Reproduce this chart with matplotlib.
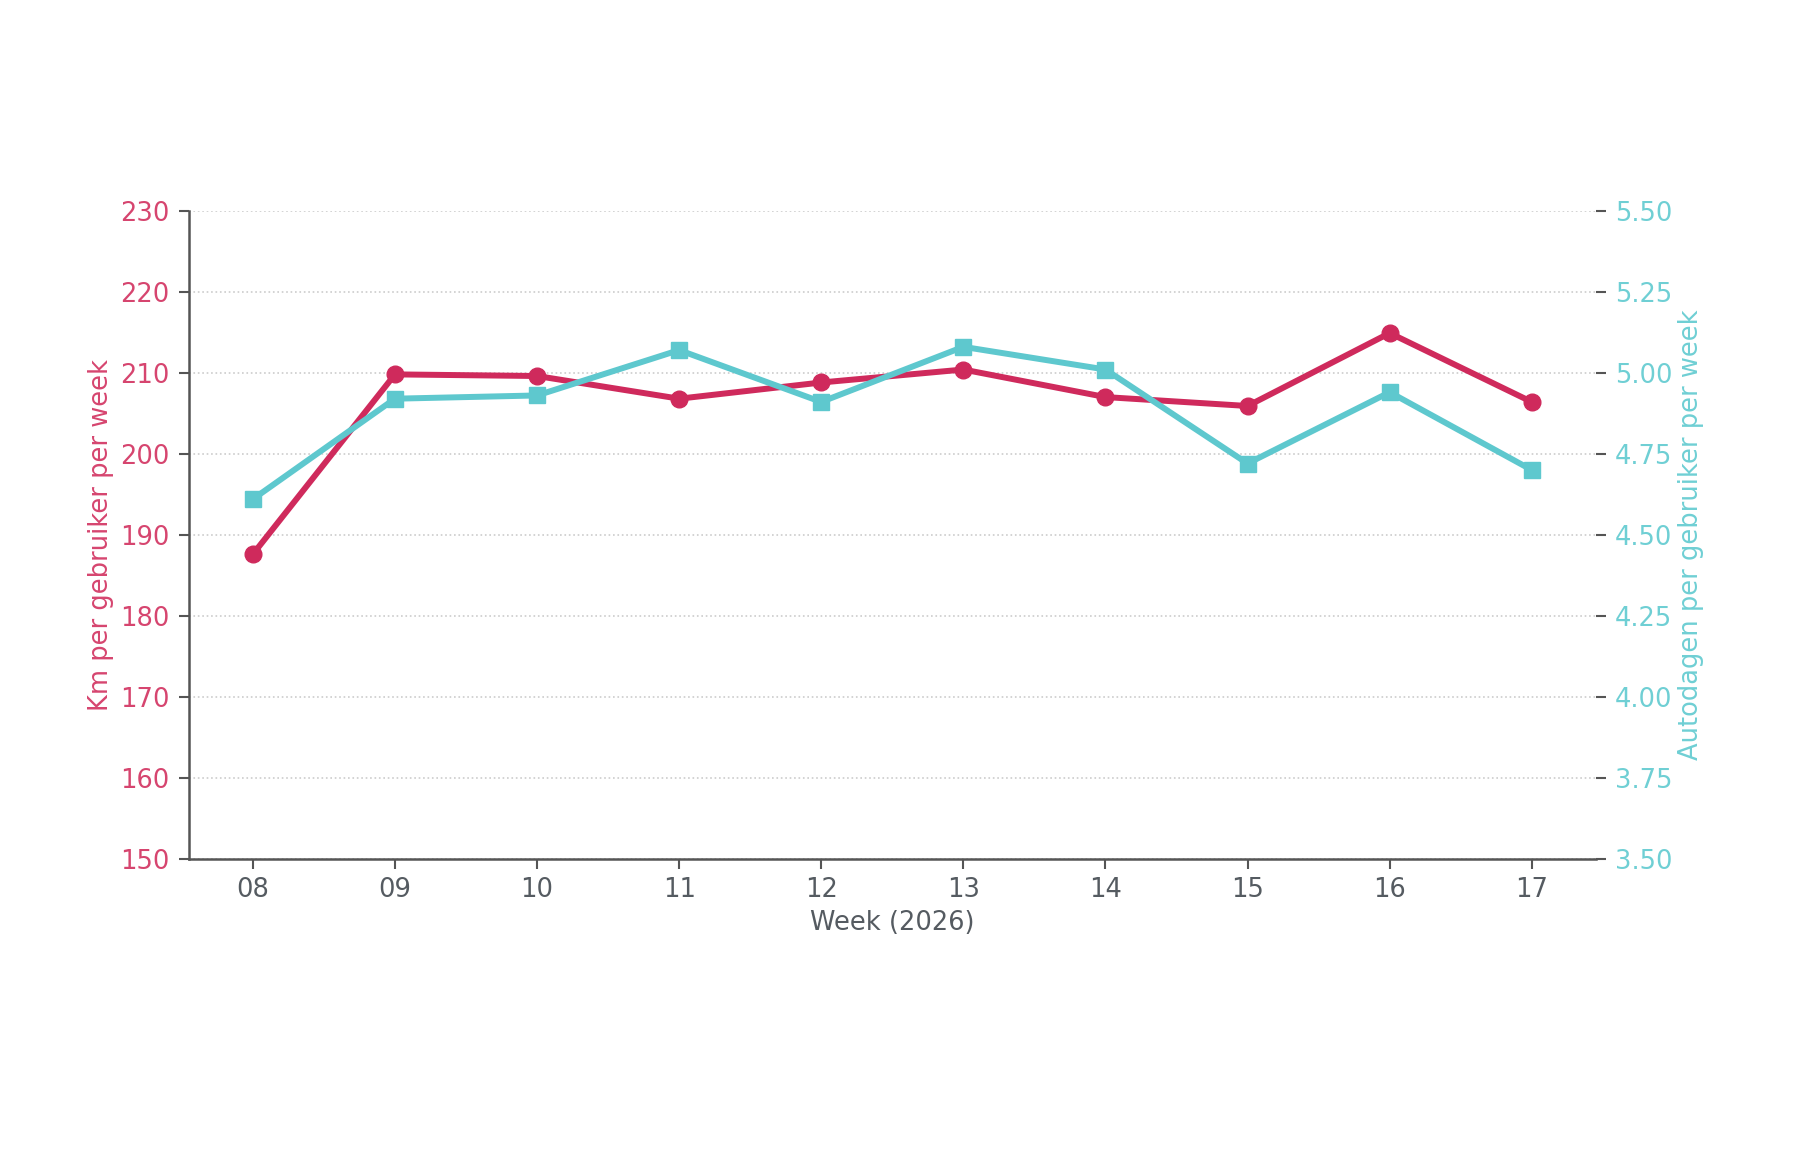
"""Km and car days per user per week, weeks 08-17 of 2026."""

import matplotlib

matplotlib.use("Agg")
import matplotlib.pyplot as plt

RED = "#cf2a5c"
TEAL = "#5ec8ce"
RED_TEXT = "#d6456f"
TEAL_TEXT = "#6fcfd4"
GREY_TEXT = "#555b61"
SPINE = "#555555"

weeks = ["08", "09", "10", "11", "12", "13", "14", "15", "16", "17"]
km_per_user = [187.6, 209.8, 209.6, 206.8, 208.8, 210.4, 207.0, 205.9, 214.9, 206.4]
car_days_per_user = [4.61, 4.92, 4.93, 5.07, 4.91, 5.08, 5.01, 4.72, 4.94, 4.70]

left_ticks = [150, 160, 170, 180, 190, 200, 210, 220, 230]
right_ticks = [3.50, 3.75, 4.00, 4.25, 4.50, 4.75, 5.00, 5.25, 5.50]

FS = 18.5

fig = plt.figure(figsize=(17.99, 11.68), dpi=100)
ax = fig.add_axes([0.105, 0.2646, 0.782, 0.555])
ax2 = ax.twinx()

x = list(range(len(weeks)))
ax.plot(x, km_per_user, color=RED, linewidth=4.3, marker="o", markersize=12, zorder=3)
ax2.plot(x, car_days_per_user, color=TEAL, linewidth=4.3, marker="s", markersize=11, zorder=2)

ax.set_ylim(150, 230)
ax.set_yticks(left_ticks)
ax2.set_ylim(3.5, 5.5)
ax2.set_yticks(right_ticks)
ax2.set_yticklabels([f"{t:.2f}" for t in right_ticks])
ax.set_xticks(x)
ax.set_xticklabels(weeks)

ax.grid(axis="y", linestyle=":", color="#cccccc", linewidth=1.2)
ax.set_axisbelow(True)

for side in ("top", "right"):
    ax.spines[side].set_visible(False)
for side in ("top", "right", "left", "bottom"):
    ax2.spines[side].set_visible(False)
ax.spines["left"].set_color(SPINE)
ax.spines["bottom"].set_color(SPINE)
ax.spines["left"].set_linewidth(1.8)
ax.spines["bottom"].set_linewidth(1.8)

ax.tick_params(axis="y", colors=SPINE, labelcolor=RED_TEXT, labelsize=FS, length=7, width=1.5, pad=7)
ax.tick_params(axis="x", colors=SPINE, labelcolor=GREY_TEXT, labelsize=FS, length=7, width=1.5, pad=6)
ax2.tick_params(axis="y", colors=SPINE, labelcolor=TEAL_TEXT, labelsize=FS, length=7, width=1.5, pad=7)

ax.set_xlabel("Week (2026)", color=GREY_TEXT, fontsize=FS, labelpad=5)
ax.set_ylabel("Km per gebruiker per week", color=RED_TEXT, fontsize=FS, labelpad=4)
ax2.set_ylabel("Autodagen per gebruiker per week", color=TEAL_TEXT, fontsize=FS, labelpad=4)

fig.savefig("out.png", dpi=100, facecolor="white")
